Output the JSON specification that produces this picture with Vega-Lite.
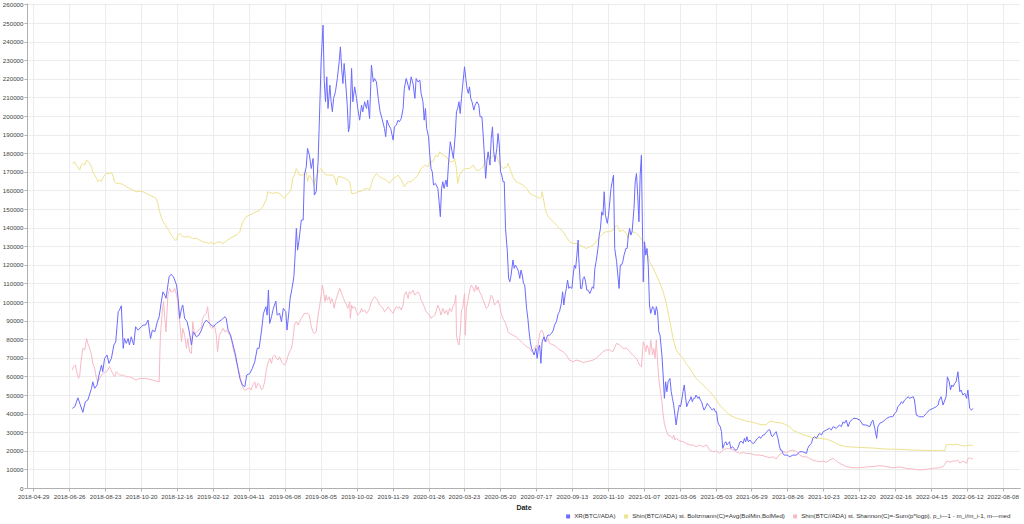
{
  "$schema": "https://vega.github.io/schema/vega-lite/v6.json",
  "width": 993,
  "height": 485,
  "autosize": {"type": "none"},
  "padding": {"left": 27, "top": 3, "right": 4, "bottom": 36},
  "background": "white",
  "config": {
    "font": "Liberation Sans",
    "view": {"stroke": null},
    "axis": {
      "labelFontSize": 6.2,
      "labelColor": "#444444",
      "gridColor": "#ececec",
      "gridWidth": 1,
      "domainColor": "#b0b0b0",
      "tickColor": "#b0b0b0",
      "tickSize": 3
    }
  },
  "datasets": {
    "xr": [
      {"d":"2018-07-01","v":42800},{"d":"2018-07-05","v":43700},{"d":"2018-07-10","v":48500},{"d":"2018-07-14","v":44600},
      {"d":"2018-07-18","v":40700},{"d":"2018-07-22","v":46400},{"d":"2018-07-26","v":47300},{"d":"2018-08-01","v":53600},
      {"d":"2018-08-03","v":57100},{"d":"2018-08-06","v":53600},{"d":"2018-08-10","v":55400},{"d":"2018-08-13","v":60700},
      {"d":"2018-08-17","v":66100},{"d":"2018-08-19","v":62500},{"d":"2018-08-22","v":69700},{"d":"2018-08-26","v":71500},
      {"d":"2018-08-29","v":67000},{"d":"2018-09-02","v":69700},{"d":"2018-09-06","v":76900},{"d":"2018-09-09","v":78600},
      {"d":"2018-09-13","v":94800},{"d":"2018-09-15","v":95700},{"d":"2018-09-18","v":98000},{"d":"2018-09-21","v":75100},
      {"d":"2018-09-23","v":80400},{"d":"2018-09-26","v":77800},{"d":"2018-09-29","v":80400},{"d":"2018-10-01","v":76900},
      {"d":"2018-10-04","v":81300},{"d":"2018-10-08","v":76900},{"d":"2018-10-11","v":86700},{"d":"2018-10-15","v":84900},
      {"d":"2018-10-23","v":87600},{"d":"2018-10-27","v":87600},{"d":"2018-10-31","v":90300},{"d":"2018-11-04","v":80400},
      {"d":"2018-11-07","v":84900},{"d":"2018-11-11","v":84000},{"d":"2018-11-15","v":89400},{"d":"2018-11-18","v":92100},
      {"d":"2018-11-21","v":99300},{"d":"2018-11-24","v":105500},{"d":"2018-11-27","v":103700},{"d":"2018-11-29","v":102000},
      {"d":"2018-12-04","v":113600},{"d":"2018-12-07","v":114900},{"d":"2018-12-11","v":113600},{"d":"2018-12-16","v":109100},
      {"d":"2018-12-18","v":103700},{"d":"2018-12-21","v":91200},{"d":"2018-12-24","v":96600},{"d":"2018-12-26","v":98400},
      {"d":"2018-12-29","v":91200},{"d":"2019-01-02","v":89400},{"d":"2019-01-05","v":84900},{"d":"2019-01-09","v":76900},
      {"d":"2019-01-12","v":84000},{"d":"2019-01-17","v":81300},{"d":"2019-01-21","v":82200},{"d":"2019-01-25","v":84900},
      {"d":"2019-01-29","v":88500},{"d":"2019-02-02","v":90300},{"d":"2019-02-07","v":88500},{"d":"2019-02-13","v":86700},
      {"d":"2019-02-18","v":88500},{"d":"2019-02-26","v":90300},{"d":"2019-03-04","v":92100},{"d":"2019-03-06","v":91200},
      {"d":"2019-03-09","v":84900},{"d":"2019-03-13","v":82200},{"d":"2019-03-17","v":76900},{"d":"2019-03-21","v":71500},
      {"d":"2019-03-25","v":64300},{"d":"2019-03-28","v":58900},{"d":"2019-04-01","v":55400},{"d":"2019-04-05","v":54500},
      {"d":"2019-04-08","v":60700},{"d":"2019-04-13","v":61600},{"d":"2019-04-17","v":64300},{"d":"2019-04-21","v":67900},
      {"d":"2019-04-25","v":75100},{"d":"2019-04-28","v":75100},{"d":"2019-05-02","v":84900},{"d":"2019-05-05","v":93900},
      {"d":"2019-05-09","v":97500},{"d":"2019-05-11","v":93000},{"d":"2019-05-13","v":106400},{"d":"2019-05-15","v":88500},
      {"d":"2019-05-18","v":92100},{"d":"2019-05-21","v":96600},{"d":"2019-05-25","v":100500},{"d":"2019-05-27","v":93000},
      {"d":"2019-05-31","v":93900},{"d":"2019-06-03","v":89400},{"d":"2019-06-06","v":96600},{"d":"2019-06-10","v":94800},
      {"d":"2019-06-12","v":84900},{"d":"2019-06-15","v":94800},{"d":"2019-06-17","v":102000},{"d":"2019-06-20","v":107300},
      {"d":"2019-06-23","v":113600},{"d":"2019-06-25","v":125200},{"d":"2019-06-27","v":139600},{"d":"2019-06-29","v":127900},
      {"d":"2019-07-01","v":132400},{"d":"2019-07-05","v":144100},{"d":"2019-07-08","v":144100},{"d":"2019-07-10","v":168300},
      {"d":"2019-07-13","v":172700},{"d":"2019-07-15","v":182600},{"d":"2019-07-18","v":179000},{"d":"2019-07-21","v":171800},
      {"d":"2019-07-24","v":177200},{"d":"2019-07-26","v":157500},{"d":"2019-07-29","v":159300},{"d":"2019-08-01","v":175400},
      {"d":"2019-08-03","v":196900},{"d":"2019-08-06","v":230100},{"d":"2019-08-09","v":248900},{"d":"2019-08-11","v":218400},
      {"d":"2019-08-13","v":207700},{"d":"2019-08-15","v":221100},{"d":"2019-08-17","v":204100},{"d":"2019-08-20","v":216600},
      {"d":"2019-08-22","v":207700},{"d":"2019-08-24","v":202300},{"d":"2019-08-26","v":209500},{"d":"2019-08-29","v":213100},
      {"d":"2019-09-01","v":220200},{"d":"2019-09-04","v":229200},{"d":"2019-09-06","v":237200},{"d":"2019-09-08","v":225600},
      {"d":"2019-09-10","v":217500},{"d":"2019-09-12","v":228300},{"d":"2019-09-14","v":220200},{"d":"2019-09-17","v":205900},
      {"d":"2019-09-19","v":191500},{"d":"2019-09-21","v":195100},{"d":"2019-09-24","v":225600},{"d":"2019-09-26","v":207700},
      {"d":"2019-09-29","v":215700},{"d":"2019-10-02","v":209500},{"d":"2019-10-04","v":204100},{"d":"2019-10-07","v":197800},
      {"d":"2019-10-10","v":205900},{"d":"2019-10-12","v":202300},{"d":"2019-10-15","v":207700},{"d":"2019-10-18","v":204100},
      {"d":"2019-10-20","v":208600},{"d":"2019-10-23","v":198700},{"d":"2019-10-26","v":227400},{"d":"2019-10-29","v":218400},
      {"d":"2019-10-31","v":220200},{"d":"2019-11-03","v":218400},{"d":"2019-11-06","v":209500},{"d":"2019-11-09","v":202300},
      {"d":"2019-11-12","v":198700},{"d":"2019-11-16","v":193300},{"d":"2019-11-18","v":188900},{"d":"2019-11-20","v":197800},
      {"d":"2019-11-23","v":195100},{"d":"2019-11-26","v":193300},{"d":"2019-11-30","v":187100},{"d":"2019-12-02","v":194200},
      {"d":"2019-12-05","v":195100},{"d":"2019-12-08","v":197800},{"d":"2019-12-10","v":196900},{"d":"2019-12-13","v":198700},
      {"d":"2019-12-16","v":204100},{"d":"2019-12-18","v":214800},{"d":"2019-12-21","v":220200},{"d":"2019-12-24","v":216600},
      {"d":"2019-12-26","v":213900},{"d":"2019-12-29","v":221100},{"d":"2020-01-01","v":217500},{"d":"2020-01-04","v":209500},
      {"d":"2020-01-06","v":220200},{"d":"2020-01-09","v":218400},{"d":"2020-01-12","v":219300},{"d":"2020-01-14","v":212200},
      {"d":"2020-01-17","v":207700},{"d":"2020-01-19","v":197800},{"d":"2020-01-21","v":204100},{"d":"2020-01-23","v":193300},
      {"d":"2020-01-26","v":188900},{"d":"2020-01-28","v":179000},{"d":"2020-01-30","v":171800},{"d":"2020-02-01","v":170000},
      {"d":"2020-02-03","v":162900},{"d":"2020-02-06","v":163800},{"d":"2020-02-10","v":161100},{"d":"2020-02-12","v":153900},
      {"d":"2020-02-14","v":145900},{"d":"2020-02-16","v":161100},{"d":"2020-02-18","v":164700},{"d":"2020-02-20","v":161100},
      {"d":"2020-02-23","v":165600},{"d":"2020-02-25","v":162000},{"d":"2020-02-27","v":173600},{"d":"2020-03-01","v":186200},
      {"d":"2020-03-04","v":180800},{"d":"2020-03-06","v":177200},{"d":"2020-03-09","v":189800},{"d":"2020-03-11","v":202300},
      {"d":"2020-03-13","v":204100},{"d":"2020-03-15","v":207700},{"d":"2020-03-17","v":201400},{"d":"2020-03-19","v":209500},
      {"d":"2020-03-21","v":216600},{"d":"2020-03-24","v":226500},{"d":"2020-03-26","v":220200},{"d":"2020-03-28","v":214800},
      {"d":"2020-03-30","v":212200},{"d":"2020-04-01","v":215700},{"d":"2020-04-03","v":209500},{"d":"2020-04-05","v":207700},
      {"d":"2020-04-08","v":203200},{"d":"2020-04-10","v":205900},{"d":"2020-04-13","v":207700},{"d":"2020-04-16","v":205900},
      {"d":"2020-04-18","v":199600},{"d":"2020-04-21","v":199600},{"d":"2020-04-23","v":189800},{"d":"2020-04-25","v":179000},
      {"d":"2020-04-27","v":166500},{"d":"2020-04-29","v":175400},{"d":"2020-05-01","v":180800},{"d":"2020-05-04","v":173600},
      {"d":"2020-05-06","v":188000},{"d":"2020-05-08","v":194200},{"d":"2020-05-10","v":180800},{"d":"2020-05-12","v":175400},
      {"d":"2020-05-15","v":182600},{"d":"2020-05-17","v":190600},{"d":"2020-05-19","v":184400},{"d":"2020-05-21","v":170000},
      {"d":"2020-05-23","v":168300},{"d":"2020-05-25","v":164700},{"d":"2020-05-27","v":164700},{"d":"2020-05-29","v":139600},
      {"d":"2020-06-01","v":127000},{"d":"2020-06-03","v":112700},{"d":"2020-06-05","v":110900},{"d":"2020-06-07","v":114500},
      {"d":"2020-06-10","v":122600},{"d":"2020-06-12","v":118100},{"d":"2020-06-14","v":119900},{"d":"2020-06-17","v":118100},
      {"d":"2020-06-19","v":116300},{"d":"2020-06-21","v":112700},{"d":"2020-06-23","v":117200},{"d":"2020-06-25","v":114500},
      {"d":"2020-06-27","v":110000},{"d":"2020-06-29","v":109100},{"d":"2020-07-02","v":96600},{"d":"2020-07-04","v":91200},
      {"d":"2020-07-06","v":84000},{"d":"2020-07-08","v":78600},{"d":"2020-07-10","v":75100},{"d":"2020-07-12","v":73300},
      {"d":"2020-07-14","v":71500},{"d":"2020-07-17","v":75100},{"d":"2020-07-19","v":69700},{"d":"2020-07-21","v":75100},
      {"d":"2020-07-23","v":76900},{"d":"2020-07-25","v":67000},{"d":"2020-07-27","v":78600},{"d":"2020-07-30","v":81300},
      {"d":"2020-08-01","v":78600},{"d":"2020-08-03","v":80400},{"d":"2020-08-05","v":82200},{"d":"2020-08-08","v":82200},
      {"d":"2020-08-11","v":83100},{"d":"2020-08-14","v":84900},{"d":"2020-08-16","v":87600},{"d":"2020-08-19","v":89400},
      {"d":"2020-08-22","v":93900},{"d":"2020-08-24","v":94800},{"d":"2020-08-27","v":99300},{"d":"2020-08-29","v":105500},
      {"d":"2020-08-31","v":98400},{"d":"2020-09-02","v":103700},{"d":"2020-09-04","v":107300},{"d":"2020-09-06","v":111800},
      {"d":"2020-09-08","v":107300},{"d":"2020-09-10","v":108200},{"d":"2020-09-13","v":107300},{"d":"2020-09-15","v":114500},
      {"d":"2020-09-17","v":119900},{"d":"2020-09-19","v":118100},{"d":"2020-09-21","v":125200},{"d":"2020-09-23","v":133300},
      {"d":"2020-09-24","v":123400},{"d":"2020-09-27","v":107300},{"d":"2020-09-29","v":107300},{"d":"2020-10-01","v":112700},
      {"d":"2020-10-03","v":113600},{"d":"2020-10-05","v":110900},{"d":"2020-10-07","v":106400},{"d":"2020-10-09","v":106400},
      {"d":"2020-10-12","v":104600},{"d":"2020-10-14","v":106400},{"d":"2020-10-16","v":108200},{"d":"2020-10-18","v":107300},
      {"d":"2020-10-20","v":118100},{"d":"2020-10-22","v":121700},{"d":"2020-10-25","v":128800},{"d":"2020-10-27","v":136000},
      {"d":"2020-10-29","v":139600},{"d":"2020-10-31","v":148500},{"d":"2020-11-02","v":146700},{"d":"2020-11-04","v":159300},
      {"d":"2020-11-06","v":146700},{"d":"2020-11-09","v":142300},{"d":"2020-11-11","v":146700},{"d":"2020-11-13","v":153900},
      {"d":"2020-11-15","v":161100},{"d":"2020-11-17","v":164700},{"d":"2020-11-19","v":168300},{"d":"2020-11-21","v":128800},
      {"d":"2020-11-24","v":121700},{"d":"2020-11-26","v":114500},{"d":"2020-11-28","v":107300},{"d":"2020-11-30","v":119900},
      {"d":"2020-12-02","v":119900},{"d":"2020-12-04","v":121700},{"d":"2020-12-06","v":125200},{"d":"2020-12-09","v":128800},
      {"d":"2020-12-11","v":128800},{"d":"2020-12-13","v":136000},{"d":"2020-12-15","v":139600},{"d":"2020-12-17","v":136000},
      {"d":"2020-12-19","v":137800},{"d":"2020-12-22","v":150300},{"d":"2020-12-24","v":164700},{"d":"2020-12-26","v":169100},
      {"d":"2020-12-28","v":157500},{"d":"2020-12-30","v":143200},{"d":"2021-01-01","v":168300},{"d":"2021-01-03","v":179000},
      {"d":"2021-01-04","v":153900},{"d":"2021-01-06","v":110900},{"d":"2021-01-08","v":132400},{"d":"2021-01-10","v":125200},
      {"d":"2021-01-12","v":128800},{"d":"2021-01-14","v":119900},{"d":"2021-01-16","v":98400},{"d":"2021-01-18","v":93900},
      {"d":"2021-01-21","v":97500},{"d":"2021-01-23","v":96600},{"d":"2021-01-25","v":93000},{"d":"2021-01-27","v":97500},
      {"d":"2021-01-29","v":94800},{"d":"2021-01-31","v":84000},{"d":"2021-02-02","v":82200},{"d":"2021-02-05","v":71500},
      {"d":"2021-02-07","v":60700},{"d":"2021-02-09","v":48200},{"d":"2021-02-11","v":57100},{"d":"2021-02-13","v":51800},
      {"d":"2021-02-15","v":57100},{"d":"2021-02-18","v":58900},{"d":"2021-02-20","v":51800},{"d":"2021-02-22","v":48200},
      {"d":"2021-02-24","v":44600},{"d":"2021-02-26","v":39200},{"d":"2021-02-28","v":33900},{"d":"2021-03-02","v":39200},
      {"d":"2021-03-05","v":44600},{"d":"2021-03-07","v":43700},{"d":"2021-03-09","v":47300},{"d":"2021-03-11","v":51800},
      {"d":"2021-03-13","v":55400},{"d":"2021-03-15","v":49100},{"d":"2021-03-17","v":43700},{"d":"2021-03-20","v":46400},
      {"d":"2021-03-22","v":47300},{"d":"2021-03-24","v":49100},{"d":"2021-03-26","v":46400},{"d":"2021-03-28","v":48200},
      {"d":"2021-03-30","v":48200},{"d":"2021-04-01","v":50000},{"d":"2021-04-04","v":48200},{"d":"2021-04-06","v":49100},
      {"d":"2021-04-08","v":47300},{"d":"2021-04-10","v":46400},{"d":"2021-04-12","v":43700},{"d":"2021-04-14","v":41900},
      {"d":"2021-04-17","v":43700},{"d":"2021-04-19","v":45500},{"d":"2021-04-21","v":44600},{"d":"2021-04-23","v":43700},
      {"d":"2021-04-25","v":42800},{"d":"2021-04-27","v":41900},{"d":"2021-04-30","v":42800},{"d":"2021-05-02","v":41000},
      {"d":"2021-05-04","v":41000},{"d":"2021-05-06","v":35600},{"d":"2021-05-08","v":33900},{"d":"2021-05-10","v":33000},
      {"d":"2021-05-12","v":30300},{"d":"2021-05-14","v":21300},{"d":"2021-05-17","v":24000},{"d":"2021-05-19","v":24900},
      {"d":"2021-05-21","v":23100},{"d":"2021-05-23","v":24000},{"d":"2021-05-25","v":24900},{"d":"2021-05-27","v":21300},
      {"d":"2021-05-30","v":22200},{"d":"2021-06-01","v":21300},{"d":"2021-06-03","v":20400},{"d":"2021-06-05","v":20400},
      {"d":"2021-06-07","v":21300},{"d":"2021-06-09","v":23100},{"d":"2021-06-11","v":24900},{"d":"2021-06-14","v":24900},
      {"d":"2021-06-16","v":24000},{"d":"2021-06-18","v":26700},{"d":"2021-06-20","v":24900},{"d":"2021-06-22","v":27600},
      {"d":"2021-06-24","v":24900},{"d":"2021-06-27","v":25800},{"d":"2021-06-29","v":24900},{"d":"2021-07-01","v":24000},
      {"d":"2021-07-03","v":24000},{"d":"2021-07-05","v":24900},{"d":"2021-07-07","v":25800},{"d":"2021-07-09","v":26700},
      {"d":"2021-07-12","v":27600},{"d":"2021-07-14","v":26700},{"d":"2021-07-16","v":27600},{"d":"2021-07-18","v":28500},
      {"d":"2021-07-20","v":28500},{"d":"2021-07-22","v":29400},{"d":"2021-07-24","v":30300},{"d":"2021-07-27","v":31200},
      {"d":"2021-07-29","v":31200},{"d":"2021-07-31","v":28500},{"d":"2021-08-02","v":27600},{"d":"2021-08-04","v":28500},
      {"d":"2021-08-06","v":29400},{"d":"2021-08-08","v":30300},{"d":"2021-08-11","v":26700},{"d":"2021-08-13","v":23100},
      {"d":"2021-08-15","v":20400},{"d":"2021-08-17","v":20400},{"d":"2021-08-19","v":18600},{"d":"2021-08-21","v":17700},
      {"d":"2021-08-26","v":17700},{"d":"2021-08-30","v":16800},{"d":"2021-09-04","v":17700},{"d":"2021-09-10","v":17700},
      {"d":"2021-09-15","v":19500},{"d":"2021-09-20","v":19500},{"d":"2021-09-26","v":18600},{"d":"2021-09-28","v":21300},
      {"d":"2021-10-01","v":23100},{"d":"2021-10-04","v":24000},{"d":"2021-10-06","v":26700},{"d":"2021-10-09","v":27600},
      {"d":"2021-10-12","v":26700},{"d":"2021-10-15","v":28500},{"d":"2021-10-17","v":29400},{"d":"2021-10-20","v":28500},
      {"d":"2021-10-23","v":30300},{"d":"2021-10-28","v":31200},{"d":"2021-11-02","v":32100},{"d":"2021-11-05","v":31200},
      {"d":"2021-11-08","v":33000},{"d":"2021-11-13","v":32100},{"d":"2021-11-18","v":33900},{"d":"2021-11-21","v":33000},
      {"d":"2021-11-24","v":35600},{"d":"2021-11-26","v":34800},{"d":"2021-11-29","v":36500},{"d":"2021-12-02","v":33000},
      {"d":"2021-12-05","v":35600},{"d":"2021-12-10","v":37400},{"d":"2021-12-15","v":37400},{"d":"2021-12-21","v":36500},
      {"d":"2021-12-26","v":33900},{"d":"2021-12-31","v":33900},{"d":"2022-01-06","v":33000},{"d":"2022-01-09","v":35600},
      {"d":"2022-01-11","v":36500},{"d":"2022-01-14","v":32100},{"d":"2022-01-17","v":26700},{"d":"2022-01-19","v":33000},
      {"d":"2022-01-22","v":34800},{"d":"2022-01-27","v":35600},{"d":"2022-02-02","v":37400},{"d":"2022-02-07","v":38300},
      {"d":"2022-02-12","v":38300},{"d":"2022-02-15","v":40100},{"d":"2022-02-18","v":41000},{"d":"2022-02-20","v":43700},
      {"d":"2022-02-23","v":44600},{"d":"2022-02-26","v":46400},{"d":"2022-02-28","v":45500},{"d":"2022-03-03","v":47300},
      {"d":"2022-03-06","v":48200},{"d":"2022-03-09","v":49100},{"d":"2022-03-11","v":48200},{"d":"2022-03-17","v":49100},
      {"d":"2022-03-19","v":47300},{"d":"2022-03-22","v":39200},{"d":"2022-03-27","v":38300},{"d":"2022-04-02","v":38300},
      {"d":"2022-04-07","v":40100},{"d":"2022-04-12","v":41900},{"d":"2022-04-18","v":42800},{"d":"2022-04-23","v":43700},
      {"d":"2022-04-26","v":44600},{"d":"2022-04-28","v":47300},{"d":"2022-05-01","v":49100},{"d":"2022-05-04","v":44600},
      {"d":"2022-05-07","v":47300},{"d":"2022-05-09","v":49100},{"d":"2022-05-11","v":59800},{"d":"2022-05-14","v":57100},
      {"d":"2022-05-16","v":52700},{"d":"2022-05-18","v":55400},{"d":"2022-05-20","v":54500},{"d":"2022-05-23","v":56300},
      {"d":"2022-05-25","v":57100},{"d":"2022-05-28","v":62500},{"d":"2022-05-31","v":51800},{"d":"2022-06-02","v":52700},
      {"d":"2022-06-05","v":50000},{"d":"2022-06-08","v":50900},{"d":"2022-06-11","v":48200},{"d":"2022-06-13","v":52700},
      {"d":"2022-06-16","v":42800},{"d":"2022-06-19","v":41900},{"d":"2022-06-21","v":42800}
    ],
    "bol": [
      {"d":"2018-07-01","v":174500},{"d":"2018-07-05","v":175400},{"d":"2018-07-07","v":173600},{"d":"2018-07-10","v":172700},
      {"d":"2018-07-13","v":170900},{"d":"2018-07-15","v":173600},{"d":"2018-07-18","v":174500},{"d":"2018-07-21","v":173600},
      {"d":"2018-07-24","v":176300},{"d":"2018-07-26","v":175800},{"d":"2018-07-29","v":174500},{"d":"2018-08-01","v":172700},
      {"d":"2018-08-03","v":170000},{"d":"2018-08-06","v":168300},{"d":"2018-08-09","v":166500},{"d":"2018-08-11","v":164700},
      {"d":"2018-08-14","v":165600},{"d":"2018-08-17","v":164700},{"d":"2018-08-19","v":166500},{"d":"2018-08-22","v":168300},
      {"d":"2018-08-25","v":169100},{"d":"2018-08-30","v":169100},{"d":"2018-09-02","v":169700},{"d":"2018-09-04","v":168300},
      {"d":"2018-09-07","v":164700},{"d":"2018-09-10","v":163800},{"d":"2018-09-15","v":163800},{"d":"2018-09-21","v":163200},
      {"d":"2018-09-26","v":162000},{"d":"2018-10-01","v":161100},{"d":"2018-10-07","v":160200},{"d":"2018-10-12","v":159300},
      {"d":"2018-10-17","v":159600},{"d":"2018-10-23","v":159300},{"d":"2018-10-28","v":158400},{"d":"2018-11-02","v":157500},
      {"d":"2018-11-08","v":156600},{"d":"2018-11-13","v":155700},{"d":"2018-11-16","v":153000},{"d":"2018-11-18","v":149400},
      {"d":"2018-11-21","v":145900},{"d":"2018-11-24","v":143200},{"d":"2018-11-28","v":141400},{"d":"2018-12-01","v":139600},
      {"d":"2018-12-05","v":137800},{"d":"2018-12-07","v":136000},{"d":"2018-12-10","v":135100},{"d":"2018-12-13","v":133300},
      {"d":"2018-12-16","v":133300},{"d":"2018-12-18","v":136000},{"d":"2018-12-21","v":136900},{"d":"2018-12-26","v":135100},
      {"d":"2019-01-01","v":135100},{"d":"2019-01-06","v":135100},{"d":"2019-01-11","v":134200},{"d":"2019-01-17","v":134200},
      {"d":"2019-01-22","v":133300},{"d":"2019-01-27","v":132400},{"d":"2019-02-02","v":132000},{"d":"2019-02-07","v":131500},
      {"d":"2019-02-10","v":132400},{"d":"2019-02-13","v":131000},{"d":"2019-02-18","v":132000},{"d":"2019-02-23","v":132400},
      {"d":"2019-03-01","v":131500},{"d":"2019-03-06","v":132800},{"d":"2019-03-12","v":134200},{"d":"2019-03-17","v":135100},
      {"d":"2019-03-22","v":136000},{"d":"2019-03-28","v":137800},{"d":"2019-03-30","v":140500},{"d":"2019-04-02","v":143200},
      {"d":"2019-04-07","v":145900},{"d":"2019-04-13","v":146800},{"d":"2019-04-18","v":147600},{"d":"2019-04-23","v":148500},
      {"d":"2019-04-29","v":149400},{"d":"2019-05-04","v":151200},{"d":"2019-05-10","v":155700},{"d":"2019-05-12","v":159300},
      {"d":"2019-05-15","v":158900},{"d":"2019-05-20","v":158400},{"d":"2019-05-26","v":158900},{"d":"2019-05-31","v":158400},
      {"d":"2019-06-05","v":156600},{"d":"2019-06-08","v":155700},{"d":"2019-06-11","v":157500},{"d":"2019-06-16","v":159300},
      {"d":"2019-06-19","v":161100},{"d":"2019-06-21","v":166500},{"d":"2019-06-24","v":168300},{"d":"2019-06-27","v":171800},
      {"d":"2019-06-30","v":170000},{"d":"2019-07-02","v":168300},{"d":"2019-07-07","v":168300},{"d":"2019-07-13","v":170000},
      {"d":"2019-07-15","v":164700},{"d":"2019-07-18","v":168300},{"d":"2019-07-24","v":164700},{"d":"2019-07-26","v":162900},
      {"d":"2019-07-29","v":167300},{"d":"2019-08-03","v":170900},{"d":"2019-08-06","v":171800},{"d":"2019-08-09","v":170000},
      {"d":"2019-08-14","v":168300},{"d":"2019-08-20","v":168300},{"d":"2019-08-25","v":168300},{"d":"2019-08-28","v":166500},
      {"d":"2019-08-31","v":162900},{"d":"2019-09-02","v":167300},{"d":"2019-09-08","v":167300},{"d":"2019-09-13","v":166500},
      {"d":"2019-09-18","v":165600},{"d":"2019-09-21","v":164700},{"d":"2019-09-24","v":158400},{"d":"2019-09-29","v":158400},
      {"d":"2019-10-04","v":159300},{"d":"2019-10-10","v":159600},{"d":"2019-10-15","v":160700},{"d":"2019-10-20","v":161100},
      {"d":"2019-10-23","v":160200},{"d":"2019-10-26","v":163800},{"d":"2019-10-29","v":166500},{"d":"2019-11-03","v":169100},
      {"d":"2019-11-08","v":167300},{"d":"2019-11-13","v":166500},{"d":"2019-11-19","v":165600},{"d":"2019-11-24","v":163800},
      {"d":"2019-11-30","v":166500},{"d":"2019-12-05","v":167300},{"d":"2019-12-08","v":168300},{"d":"2019-12-13","v":165600},
      {"d":"2019-12-18","v":162000},{"d":"2019-12-24","v":164700},{"d":"2019-12-29","v":164700},{"d":"2020-01-04","v":166500},
      {"d":"2020-01-09","v":168300},{"d":"2020-01-14","v":171800},{"d":"2020-01-20","v":173600},{"d":"2020-01-25","v":172700},
      {"d":"2020-01-28","v":175400},{"d":"2020-02-02","v":175400},{"d":"2020-02-07","v":179000},{"d":"2020-02-10","v":178100},
      {"d":"2020-02-13","v":180800},{"d":"2020-02-18","v":179000},{"d":"2020-02-24","v":178100},{"d":"2020-02-29","v":175400},
      {"d":"2020-03-05","v":175400},{"d":"2020-03-08","v":177200},{"d":"2020-03-11","v":171800},{"d":"2020-03-13","v":163800},
      {"d":"2020-03-16","v":168300},{"d":"2020-03-21","v":170900},{"d":"2020-03-27","v":171800},{"d":"2020-04-01","v":171800},
      {"d":"2020-04-07","v":173600},{"d":"2020-04-12","v":170900},{"d":"2020-04-17","v":170900},{"d":"2020-04-23","v":172700},
      {"d":"2020-04-28","v":176300},{"d":"2020-05-01","v":179000},{"d":"2020-05-06","v":177200},{"d":"2020-05-09","v":179000},
      {"d":"2020-05-15","v":178100},{"d":"2020-05-20","v":173600},{"d":"2020-05-25","v":171800},{"d":"2020-05-31","v":172700},
      {"d":"2020-06-02","v":174500},{"d":"2020-06-05","v":171800},{"d":"2020-06-10","v":167300},{"d":"2020-06-15","v":164700},
      {"d":"2020-06-21","v":163800},{"d":"2020-06-26","v":162900},{"d":"2020-07-02","v":161100},{"d":"2020-07-07","v":158400},
      {"d":"2020-07-12","v":157500},{"d":"2020-07-18","v":156600},{"d":"2020-07-23","v":155700},{"d":"2020-07-26","v":156600},
      {"d":"2020-07-27","v":159300},{"d":"2020-07-30","v":153900},{"d":"2020-08-01","v":150300},{"d":"2020-08-03","v":147600},
      {"d":"2020-08-06","v":145900},{"d":"2020-08-08","v":145000},{"d":"2020-08-14","v":143200},{"d":"2020-08-19","v":141400},
      {"d":"2020-08-24","v":139600},{"d":"2020-08-30","v":137800},{"d":"2020-09-04","v":135100},{"d":"2020-09-09","v":132400},
      {"d":"2020-09-15","v":131500},{"d":"2020-09-20","v":131500},{"d":"2020-09-26","v":130600},{"d":"2020-10-01","v":129700},
      {"d":"2020-10-06","v":128800},{"d":"2020-10-12","v":129700},{"d":"2020-10-17","v":130600},{"d":"2020-10-22","v":132400},
      {"d":"2020-10-28","v":135100},{"d":"2020-11-02","v":136900},{"d":"2020-11-07","v":137800},{"d":"2020-11-13","v":137800},
      {"d":"2020-11-18","v":138700},{"d":"2020-11-24","v":141400},{"d":"2020-11-26","v":140500},{"d":"2020-11-29","v":137800},
      {"d":"2020-12-04","v":138700},{"d":"2020-12-10","v":136900},{"d":"2020-12-12","v":134200},{"d":"2020-12-15","v":137800},
      {"d":"2020-12-20","v":137800},{"d":"2020-12-26","v":136900},{"d":"2020-12-31","v":135100},{"d":"2021-01-06","v":132400},
      {"d":"2021-01-11","v":128800},{"d":"2021-01-16","v":121700},{"d":"2021-01-22","v":118100},{"d":"2021-01-27","v":114500},
      {"d":"2021-02-01","v":110900},{"d":"2021-02-07","v":105500},{"d":"2021-02-12","v":99300},{"d":"2021-02-18","v":89400},
      {"d":"2021-02-23","v":80400},{"d":"2021-02-28","v":74200},{"d":"2021-03-06","v":71500},{"d":"2021-03-11","v":69700},
      {"d":"2021-03-16","v":67000},{"d":"2021-03-22","v":64300},{"d":"2021-03-27","v":61600},{"d":"2021-04-01","v":58900},
      {"d":"2021-04-07","v":57100},{"d":"2021-04-12","v":55400},{"d":"2021-04-18","v":53600},{"d":"2021-04-23","v":51800},
      {"d":"2021-04-28","v":50000},{"d":"2021-05-04","v":47300},{"d":"2021-05-09","v":44600},{"d":"2021-05-14","v":42800},
      {"d":"2021-05-20","v":41000},{"d":"2021-05-25","v":39200},{"d":"2021-05-31","v":38300},{"d":"2021-06-05","v":37400},
      {"d":"2021-06-10","v":37100},{"d":"2021-06-21","v":36000},{"d":"2021-07-02","v":35300},{"d":"2021-07-13","v":34200},
      {"d":"2021-07-23","v":33900},{"d":"2021-07-29","v":36000},{"d":"2021-08-08","v":35300},{"d":"2021-08-19","v":34800},
      {"d":"2021-08-30","v":33000},{"d":"2021-09-04","v":31100},{"d":"2021-09-15","v":29400},{"d":"2021-09-26","v":28100},
      {"d":"2021-10-06","v":27000},{"d":"2021-10-17","v":26700},{"d":"2021-10-28","v":26300},{"d":"2021-11-08","v":24900},
      {"d":"2021-11-18","v":23100},{"d":"2021-11-29","v":22200},{"d":"2021-12-21","v":21800},{"d":"2022-01-11","v":21500},
      {"d":"2022-02-02","v":20900},{"d":"2022-02-23","v":20800},{"d":"2022-03-17","v":20400},{"d":"2022-04-07","v":20200},
      {"d":"2022-04-28","v":20100},{"d":"2022-05-07","v":20200},{"d":"2022-05-09","v":23100},{"d":"2022-05-15","v":23500},
      {"d":"2022-05-20","v":23100},{"d":"2022-05-25","v":23600},{"d":"2022-05-31","v":23100},{"d":"2022-06-05","v":22600},
      {"d":"2022-06-11","v":22700},{"d":"2022-06-16","v":23100},{"d":"2022-06-21","v":22700}
    ],
    "sha": [
      {"d":"2018-07-01","v":63400},{"d":"2018-07-03","v":65200},{"d":"2018-07-06","v":66100},{"d":"2018-07-08","v":62500},
      {"d":"2018-07-11","v":58900},{"d":"2018-07-13","v":60700},{"d":"2018-07-15","v":67900},{"d":"2018-07-18","v":75100},
      {"d":"2018-07-21","v":74200},{"d":"2018-07-24","v":80400},{"d":"2018-07-26","v":77800},{"d":"2018-07-29","v":75100},
      {"d":"2018-08-01","v":71500},{"d":"2018-08-03","v":67000},{"d":"2018-08-06","v":64300},{"d":"2018-08-09","v":58900},
      {"d":"2018-08-11","v":57100},{"d":"2018-08-14","v":58900},{"d":"2018-08-19","v":61600},{"d":"2018-08-25","v":62500},
      {"d":"2018-08-30","v":65200},{"d":"2018-09-04","v":61600},{"d":"2018-09-07","v":59800},{"d":"2018-09-10","v":62500},
      {"d":"2018-09-15","v":60700},{"d":"2018-09-21","v":60700},{"d":"2018-09-26","v":59800},{"d":"2018-10-01","v":59800},
      {"d":"2018-10-07","v":58900},{"d":"2018-10-12","v":58000},{"d":"2018-10-17","v":58900},{"d":"2018-10-28","v":58900},
      {"d":"2018-11-08","v":58000},{"d":"2018-11-18","v":57100},{"d":"2018-11-19","v":71500},{"d":"2018-11-20","v":82200},
      {"d":"2018-11-23","v":94800},{"d":"2018-11-25","v":100200},{"d":"2018-11-27","v":91200},{"d":"2018-11-29","v":84000},
      {"d":"2018-12-02","v":103700},{"d":"2018-12-05","v":107300},{"d":"2018-12-07","v":105500},{"d":"2018-12-10","v":105500},
      {"d":"2018-12-13","v":107300},{"d":"2018-12-16","v":103700},{"d":"2018-12-18","v":100200},{"d":"2018-12-21","v":89400},
      {"d":"2018-12-24","v":78600},{"d":"2018-12-26","v":85800},{"d":"2018-12-29","v":82200},{"d":"2019-01-01","v":75100},
      {"d":"2019-01-03","v":80400},{"d":"2019-01-06","v":73300},{"d":"2019-01-09","v":72400},{"d":"2019-01-11","v":89400},
      {"d":"2019-01-14","v":82200},{"d":"2019-01-17","v":84000},{"d":"2019-01-21","v":84900},{"d":"2019-01-25","v":86700},
      {"d":"2019-01-27","v":91200},{"d":"2019-01-30","v":93000},{"d":"2019-02-02","v":93900},{"d":"2019-02-04","v":97500},
      {"d":"2019-02-06","v":91200},{"d":"2019-02-08","v":86700},{"d":"2019-02-11","v":85800},{"d":"2019-02-15","v":87600},
      {"d":"2019-02-18","v":82200},{"d":"2019-02-20","v":73300},{"d":"2019-02-23","v":82200},{"d":"2019-02-26","v":84000},
      {"d":"2019-03-01","v":85800},{"d":"2019-03-04","v":84000},{"d":"2019-03-06","v":84900},{"d":"2019-03-12","v":82200},
      {"d":"2019-03-14","v":80400},{"d":"2019-03-17","v":75100},{"d":"2019-03-20","v":71500},{"d":"2019-03-22","v":67900},
      {"d":"2019-03-25","v":64300},{"d":"2019-03-28","v":60700},{"d":"2019-03-30","v":57100},{"d":"2019-04-02","v":53600},
      {"d":"2019-04-05","v":52700},{"d":"2019-04-07","v":52700},{"d":"2019-04-10","v":53600},{"d":"2019-04-13","v":53600},
      {"d":"2019-04-15","v":52700},{"d":"2019-04-18","v":55400},{"d":"2019-04-21","v":57100},{"d":"2019-04-23","v":53600},
      {"d":"2019-04-26","v":56300},{"d":"2019-04-29","v":55400},{"d":"2019-05-02","v":52700},{"d":"2019-05-04","v":53600},
      {"d":"2019-05-07","v":57100},{"d":"2019-05-10","v":64300},{"d":"2019-05-12","v":67000},{"d":"2019-05-15","v":69700},
      {"d":"2019-05-18","v":67000},{"d":"2019-05-20","v":70600},{"d":"2019-05-23","v":71500},{"d":"2019-05-26","v":69700},
      {"d":"2019-05-28","v":68800},{"d":"2019-05-31","v":70600},{"d":"2019-06-03","v":67900},{"d":"2019-06-05","v":67000},
      {"d":"2019-06-08","v":66100},{"d":"2019-06-11","v":67900},{"d":"2019-06-13","v":70600},{"d":"2019-06-16","v":73300},
      {"d":"2019-06-19","v":75100},{"d":"2019-06-21","v":78600},{"d":"2019-06-24","v":87600},{"d":"2019-06-27","v":89400},
      {"d":"2019-06-30","v":87600},{"d":"2019-07-02","v":89400},{"d":"2019-07-05","v":91200},{"d":"2019-07-10","v":93900},
      {"d":"2019-07-15","v":93900},{"d":"2019-07-18","v":93000},{"d":"2019-07-21","v":86700},{"d":"2019-07-24","v":84000},
      {"d":"2019-07-26","v":83100},{"d":"2019-07-29","v":84000},{"d":"2019-08-01","v":93000},{"d":"2019-08-03","v":96600},
      {"d":"2019-08-06","v":103700},{"d":"2019-08-08","v":109100},{"d":"2019-08-10","v":105500},{"d":"2019-08-12","v":100200},
      {"d":"2019-08-14","v":103700},{"d":"2019-08-16","v":101000},{"d":"2019-08-19","v":102800},{"d":"2019-08-21","v":99300},
      {"d":"2019-08-23","v":101900},{"d":"2019-08-25","v":100200},{"d":"2019-08-27","v":96600},{"d":"2019-08-29","v":100200},
      {"d":"2019-09-01","v":103700},{"d":"2019-09-03","v":105500},{"d":"2019-09-05","v":107300},{"d":"2019-09-07","v":105500},
      {"d":"2019-09-09","v":103700},{"d":"2019-09-11","v":101900},{"d":"2019-09-13","v":100200},{"d":"2019-09-16","v":98400},
      {"d":"2019-09-18","v":96600},{"d":"2019-09-21","v":100200},{"d":"2019-09-22","v":91200},{"d":"2019-09-24","v":98400},
      {"d":"2019-09-26","v":96600},{"d":"2019-09-29","v":97500},{"d":"2019-10-02","v":94800},{"d":"2019-10-04","v":93000},
      {"d":"2019-10-07","v":93900},{"d":"2019-10-10","v":96600},{"d":"2019-10-12","v":94800},{"d":"2019-10-15","v":95700},
      {"d":"2019-10-18","v":93900},{"d":"2019-10-20","v":94800},{"d":"2019-10-23","v":96600},{"d":"2019-10-26","v":100200},
      {"d":"2019-10-29","v":101900},{"d":"2019-10-31","v":102800},{"d":"2019-11-03","v":101900},{"d":"2019-11-06","v":100200},
      {"d":"2019-11-08","v":98400},{"d":"2019-11-11","v":97500},{"d":"2019-11-14","v":96600},{"d":"2019-11-16","v":94800},
      {"d":"2019-11-19","v":95700},{"d":"2019-11-22","v":97500},{"d":"2019-11-24","v":96600},{"d":"2019-11-27","v":94800},
      {"d":"2019-11-30","v":93900},{"d":"2019-12-02","v":95700},{"d":"2019-12-05","v":97500},{"d":"2019-12-08","v":96600},
      {"d":"2019-12-10","v":97500},{"d":"2019-12-13","v":95700},{"d":"2019-12-16","v":98400},{"d":"2019-12-18","v":103700},
      {"d":"2019-12-21","v":105500},{"d":"2019-12-24","v":101900},{"d":"2019-12-26","v":105500},{"d":"2019-12-29","v":104600},
      {"d":"2020-01-01","v":106400},{"d":"2020-01-04","v":103700},{"d":"2020-01-06","v":104600},{"d":"2020-01-09","v":105500},
      {"d":"2020-01-12","v":103700},{"d":"2020-01-14","v":101000},{"d":"2020-01-17","v":99300},{"d":"2020-01-20","v":96600},
      {"d":"2020-01-22","v":94800},{"d":"2020-01-25","v":93900},{"d":"2020-01-28","v":93000},{"d":"2020-01-30","v":91200},
      {"d":"2020-02-02","v":92100},{"d":"2020-02-05","v":93000},{"d":"2020-02-07","v":94800},{"d":"2020-02-10","v":98400},
      {"d":"2020-02-13","v":95700},{"d":"2020-02-15","v":93000},{"d":"2020-02-18","v":96600},{"d":"2020-02-21","v":93900},
      {"d":"2020-02-24","v":95700},{"d":"2020-02-26","v":93000},{"d":"2020-02-29","v":96600},{"d":"2020-03-03","v":94800},
      {"d":"2020-03-05","v":97500},{"d":"2020-03-08","v":99300},{"d":"2020-03-10","v":103700},{"d":"2020-03-11","v":82200},
      {"d":"2020-03-13","v":78600},{"d":"2020-03-15","v":76900},{"d":"2020-03-17","v":83100},{"d":"2020-03-19","v":95700},
      {"d":"2020-03-21","v":96600},{"d":"2020-03-24","v":104600},{"d":"2020-03-25","v":82200},{"d":"2020-03-27","v":96600},
      {"d":"2020-03-29","v":100200},{"d":"2020-03-31","v":103700},{"d":"2020-04-02","v":107300},{"d":"2020-04-04","v":109100},
      {"d":"2020-04-07","v":107300},{"d":"2020-04-09","v":105500},{"d":"2020-04-11","v":109100},{"d":"2020-04-13","v":106400},
      {"d":"2020-04-15","v":108200},{"d":"2020-04-17","v":105500},{"d":"2020-04-20","v":103700},{"d":"2020-04-23","v":101000},
      {"d":"2020-04-26","v":98400},{"d":"2020-04-28","v":96600},{"d":"2020-05-01","v":97500},{"d":"2020-05-04","v":101000},
      {"d":"2020-05-06","v":103700},{"d":"2020-05-09","v":101900},{"d":"2020-05-11","v":98400},{"d":"2020-05-14","v":99300},
      {"d":"2020-05-17","v":101000},{"d":"2020-05-20","v":97500},{"d":"2020-05-22","v":93900},{"d":"2020-05-25","v":91200},
      {"d":"2020-05-28","v":89400},{"d":"2020-05-31","v":86700},{"d":"2020-06-02","v":84000},{"d":"2020-06-05","v":83100},
      {"d":"2020-06-10","v":82200},{"d":"2020-06-15","v":81300},{"d":"2020-06-21","v":79500},{"d":"2020-06-26","v":77800},
      {"d":"2020-07-02","v":76000},{"d":"2020-07-07","v":75100},{"d":"2020-07-10","v":73300},{"d":"2020-07-12","v":74200},
      {"d":"2020-07-15","v":75100},{"d":"2020-07-18","v":76900},{"d":"2020-07-20","v":75100},{"d":"2020-07-23","v":83100},
      {"d":"2020-07-26","v":84900},{"d":"2020-07-28","v":84000},{"d":"2020-07-31","v":80400},{"d":"2020-08-03","v":78600},
      {"d":"2020-08-06","v":80400},{"d":"2020-08-08","v":77800},{"d":"2020-08-14","v":76900},{"d":"2020-08-19","v":76000},
      {"d":"2020-08-24","v":74200},{"d":"2020-08-30","v":73300},{"d":"2020-09-04","v":71500},{"d":"2020-09-09","v":68800},
      {"d":"2020-09-15","v":67900},{"d":"2020-09-20","v":68800},{"d":"2020-09-26","v":68300},{"d":"2020-10-01","v":67500},
      {"d":"2020-10-06","v":67900},{"d":"2020-10-12","v":68300},{"d":"2020-10-17","v":68800},{"d":"2020-10-22","v":69700},
      {"d":"2020-10-28","v":71500},{"d":"2020-11-02","v":73300},{"d":"2020-11-07","v":74200},{"d":"2020-11-13","v":74200},
      {"d":"2020-11-18","v":73300},{"d":"2020-11-24","v":77800},{"d":"2020-11-29","v":76900},{"d":"2020-12-04","v":75100},
      {"d":"2020-12-10","v":75100},{"d":"2020-12-15","v":73300},{"d":"2020-12-20","v":71500},{"d":"2020-12-26","v":69700},
      {"d":"2020-12-31","v":66100},{"d":"2021-01-03","v":65200},{"d":"2021-01-06","v":78600},{"d":"2021-01-08","v":76900},
      {"d":"2021-01-10","v":73300},{"d":"2021-01-12","v":76900},{"d":"2021-01-14","v":75100},{"d":"2021-01-16","v":71500},
      {"d":"2021-01-18","v":79500},{"d":"2021-01-21","v":71500},{"d":"2021-01-23","v":75100},{"d":"2021-01-25","v":69700},
      {"d":"2021-01-27","v":79500},{"d":"2021-01-29","v":67900},{"d":"2021-01-31","v":58900},{"d":"2021-02-02","v":53600},
      {"d":"2021-02-05","v":46400},{"d":"2021-02-07","v":39200},{"d":"2021-02-09","v":34800},{"d":"2021-02-11","v":32100},
      {"d":"2021-02-13","v":30300},{"d":"2021-02-15","v":28500},{"d":"2021-02-20","v":27600},{"d":"2021-02-22","v":26700},
      {"d":"2021-02-24","v":28500},{"d":"2021-02-26","v":25800},{"d":"2021-02-28","v":26700},{"d":"2021-03-06","v":25300},
      {"d":"2021-03-11","v":24900},{"d":"2021-03-16","v":24000},{"d":"2021-03-22","v":23100},{"d":"2021-03-27","v":23100},
      {"d":"2021-04-01","v":22200},{"d":"2021-04-07","v":23100},{"d":"2021-04-12","v":22200},{"d":"2021-04-18","v":23100},
      {"d":"2021-04-23","v":20400},{"d":"2021-04-28","v":19500},{"d":"2021-05-04","v":19900},{"d":"2021-05-09","v":18600},
      {"d":"2021-05-14","v":20400},{"d":"2021-05-20","v":21300},{"d":"2021-05-25","v":21300},{"d":"2021-05-31","v":20400},
      {"d":"2021-06-05","v":19500},{"d":"2021-06-10","v":18600},{"d":"2021-06-16","v":19100},{"d":"2021-06-21","v":18600},
      {"d":"2021-06-27","v":18600},{"d":"2021-07-02","v":18100},{"d":"2021-07-07","v":17700},{"d":"2021-07-13","v":17700},
      {"d":"2021-07-18","v":17400},{"d":"2021-07-23","v":16800},{"d":"2021-07-29","v":16300},{"d":"2021-08-03","v":16800},
      {"d":"2021-08-08","v":15600},{"d":"2021-08-13","v":17700},{"d":"2021-08-19","v":19500},{"d":"2021-08-25","v":19100},
      {"d":"2021-08-30","v":19900},{"d":"2021-09-04","v":20400},{"d":"2021-09-10","v":19500},{"d":"2021-09-15","v":17700},
      {"d":"2021-09-20","v":16800},{"d":"2021-09-26","v":16800},{"d":"2021-10-01","v":15900},{"d":"2021-10-06","v":15000},
      {"d":"2021-10-12","v":14500},{"d":"2021-10-17","v":14100},{"d":"2021-10-23","v":14500},{"d":"2021-10-28","v":13800},
      {"d":"2021-11-02","v":15000},{"d":"2021-11-08","v":15900},{"d":"2021-11-13","v":14500},{"d":"2021-11-18","v":13300},
      {"d":"2021-11-24","v":12400},{"d":"2021-11-29","v":11500},{"d":"2021-12-10","v":10900},{"d":"2021-12-21","v":10900},
      {"d":"2021-12-31","v":11300},{"d":"2022-01-11","v":11500},{"d":"2022-01-22","v":12000},{"d":"2022-02-02","v":11500},
      {"d":"2022-02-12","v":10900},{"d":"2022-02-23","v":11300},{"d":"2022-03-06","v":10600},{"d":"2022-03-17","v":10200},
      {"d":"2022-03-27","v":9700},{"d":"2022-04-07","v":10000},{"d":"2022-04-18","v":10600},{"d":"2022-04-28","v":10900},
      {"d":"2022-05-04","v":11500},{"d":"2022-05-07","v":12700},{"d":"2022-05-09","v":14100},{"d":"2022-05-12","v":14500},
      {"d":"2022-05-15","v":13800},{"d":"2022-05-20","v":14500},{"d":"2022-05-25","v":14500},{"d":"2022-05-28","v":15000},
      {"d":"2022-05-31","v":13300},{"d":"2022-06-05","v":14500},{"d":"2022-06-11","v":13300},{"d":"2022-06-13","v":15600},
      {"d":"2022-06-16","v":16300},{"d":"2022-06-19","v":15600},{"d":"2022-06-21","v":15900}
    ]
  },
  "encoding": {
    "x": {
      "field": "d",
      "type": "temporal",
      "title": "Date",
      "scale": {
        "type": "utc",
        "domain": [
          {"year": 2018, "month": 4, "date": 19, "utc": true},
          {"year": 2022, "month": 9, "date": 5, "utc": true}
        ]
      },
      "axis": {
        "labelExpr": "utcFormat(datum.value, '%Y-%m-%d')",
        "labelOverlap": false,
        "labelPadding": 2,
        "titleFontSize": 7,
        "titleFontWeight": "bold",
        "titleColor": "#222222",
        "titlePadding": 4,
        "values": [
          {"year":2018,"month":4,"date":29,"utc":true},{"year":2018,"month":6,"date":26,"utc":true},
          {"year":2018,"month":8,"date":23,"utc":true},{"year":2018,"month":10,"date":20,"utc":true},
          {"year":2018,"month":12,"date":16,"utc":true},{"year":2019,"month":2,"date":12,"utc":true},
          {"year":2019,"month":4,"date":11,"utc":true},{"year":2019,"month":6,"date":8,"utc":true},
          {"year":2019,"month":8,"date":5,"utc":true},{"year":2019,"month":10,"date":2,"utc":true},
          {"year":2019,"month":11,"date":29,"utc":true},{"year":2020,"month":1,"date":26,"utc":true},
          {"year":2020,"month":3,"date":23,"utc":true},{"year":2020,"month":5,"date":20,"utc":true},
          {"year":2020,"month":7,"date":17,"utc":true},{"year":2020,"month":9,"date":13,"utc":true},
          {"year":2020,"month":11,"date":10,"utc":true},{"year":2021,"month":1,"date":7,"utc":true},
          {"year":2021,"month":3,"date":6,"utc":true},{"year":2021,"month":5,"date":3,"utc":true},
          {"year":2021,"month":6,"date":29,"utc":true},{"year":2021,"month":8,"date":26,"utc":true},
          {"year":2021,"month":10,"date":23,"utc":true},{"year":2021,"month":12,"date":20,"utc":true},
          {"year":2022,"month":2,"date":16,"utc":true},{"year":2022,"month":4,"date":15,"utc":true},
          {"year":2022,"month":6,"date":12,"utc":true},{"year":2022,"month":8,"date":8,"utc":true}
        ]
      }
    },
    "y": {
      "field": "v",
      "type": "quantitative",
      "title": null,
      "scale": {"domain": [0, 260800], "nice": false, "zero": true},
      "axis": {
        "format": "d",
        "labelPadding": 1,
        "values": [0,10000,20000,30000,40000,50000,60000,70000,80000,90000,100000,110000,120000,130000,140000,150000,160000,170000,180000,190000,200000,210000,220000,230000,240000,250000,260000]
      }
    },
    "color": {
      "scale": {
        "domain": [
          "XR(BTC//ADA)",
          "Shin(BTC//ADA) st. Boltzmann(C)=Avg(BolMin,BolMed)",
          "Shin(BTC//ADA) st. Shannon(C)=-Sum(p*logp), p_i—1 - m_i/m_i-1, m—med"
        ],
        "range": ["#6b6bff", "#eee28e", "#f8b9c5"]
      },
      "legend": {
        "title": null,
        "orient": "none",
        "legendX": 538,
        "legendY": 510,
        "direction": "horizontal",
        "symbolType": "square",
        "symbolSize": 16,
        "symbolStrokeWidth": 0,
        "labelFontSize": 6.2,
        "labelColor": "#333333",
        "labelLimit": 400,
        "labelOffset": 3,
        "columnPadding": 7,
        "encode": {
          "symbols": {
            "update": {
              "fill": {"scale": "color", "field": "value"},
              "fillOpacity": {"value": 1},
              "strokeWidth": {"value": 0}
            }
          }
        }
      }
    }
  },
  "layer": [
    {"data": {"name": "bol"}, "mark": {"type": "line", "strokeWidth": 1}, "encoding": {"color": {"datum": "Shin(BTC//ADA) st. Boltzmann(C)=Avg(BolMin,BolMed)"}}},
    {"data": {"name": "sha"}, "mark": {"type": "line", "strokeWidth": 1}, "encoding": {"color": {"datum": "Shin(BTC//ADA) st. Shannon(C)=-Sum(p*logp), p_i—1 - m_i/m_i-1, m—med"}}},
    {"data": {"name": "xr"}, "mark": {"type": "line", "strokeWidth": 1}, "encoding": {"color": {"datum": "XR(BTC//ADA)"}}}
  ]
}
